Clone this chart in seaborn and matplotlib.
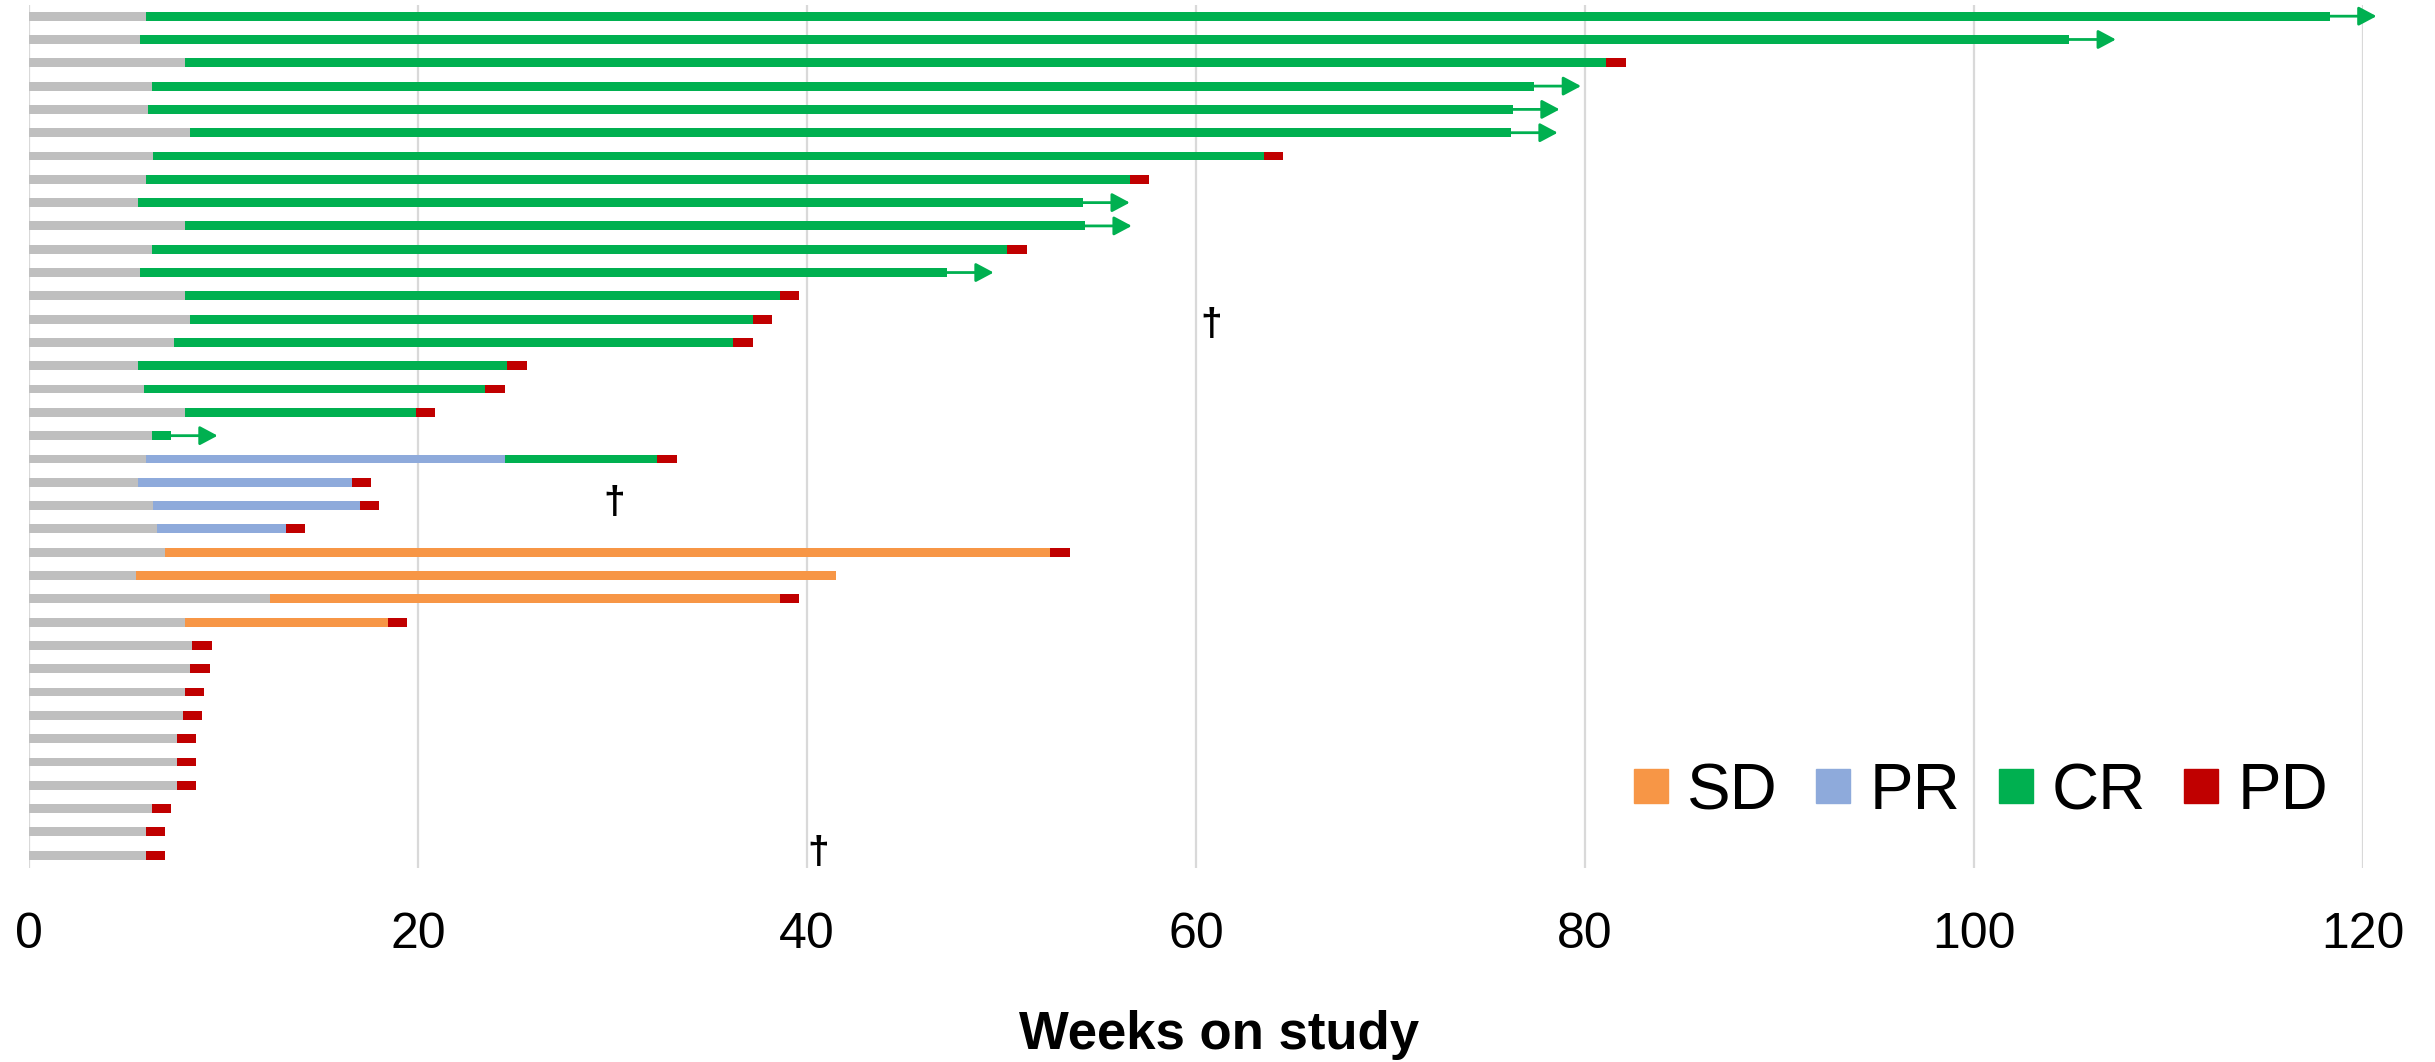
"""
Swimmer plot: weeks on study per patient, coloured by best response phase.
"""
import matplotlib

matplotlib.use("Agg")
import matplotlib.pyplot as plt
import pandas as pd
import seaborn as sns
from matplotlib.lines import Line2D

# Weeks of each phase per patient (top row first)
GRAY = [6.0, 5.7, 8.0, 6.3, 6.1, 8.3, 6.4, 6.0, 5.6, 8.0, 6.3, 5.7, 8.0, 8.3, 7.45, 5.6, 5.9, 8.0, 6.3,
        6.0, 5.6, 6.4, 6.6, 7.0, 5.5, 12.4, 8.0, 8.4, 8.3, 8.0, 7.9, 7.6, 7.6, 7.6, 6.3, 6.0, 6.0]
SD = [0] * 23 + [45.5, 36.0, 26.2, 10.45] + [0] * 10
PR = [0] * 19 + [18.5, 11.0, 10.6, 6.6] + [0] * 14
CR = [112.3, 99.2, 73.1, 71.1, 70.2, 67.9, 57.1, 50.6, 48.6, 46.3, 44.0, 41.5, 30.6, 28.9, 28.75,
      19.0, 17.55, 11.9, 1.0, 7.8] + [0] * 17
PD = [0, 0, 1, 0, 0, 0, 1, 1, 0, 0, 1, 0, 1, 1, 1, 1, 1, 1, 0,
      1, 1, 1, 1, 1, 0, 1, 1, 1, 1, 1, 1, 1, 1, 1, 1, 1, 1]
ONGOING = [1, 1, 0, 1, 1, 1, 0, 0, 1, 1, 0, 1, 0, 0, 0, 0, 0, 0, 1,
           0, 0, 0, 0, 0, 0, 0, 0, 0, 0, 0, 0, 0, 0, 0, 0, 0, 0]
ARROW_LEN = 2.4

# deaths (dagger marks)
DEATH_WEEK = [60.8, 30.1, 40.6]
DEATH_ROW = [13.25, 20.9, 35.9]

XTICKS = [0, 20, 40, 60, 80, 100, 120]
COLORS = {"gray": "#BFBFBF", "SD": "#F79646", "PR": "#8EAADB", "CR": "#00B050", "PD": "#C00000"}

sns.set_theme(style="white")
plt.rcParams["font.family"] = ["Liberation Sans", "DejaVu Sans"]
plt.rcParams["text.color"] = "black"
plt.rcParams["axes.labelcolor"] = "black"
plt.rcParams["xtick.color"] = "black"

df = pd.DataFrame({"gray": GRAY, "SD": SD, "PR": PR, "CR": CR, "PD": PD})
cum = df.cumsum(axis=1)
cum["patient"] = [f"P{i + 1}" for i in range(len(df))]

fig = plt.figure(figsize=(24.35, 10.62), dpi=100)
ax = fig.add_axes([0.0119, 0.1827, 0.9585, 0.8126])

# overlay cumulative totals, longest first, so each phase shows as a stacked segment
for col in ["PD", "CR", "PR", "SD", "gray"]:
    sns.barplot(data=cum, x=col, y="patient", orient="h", color=COLORS[col],
                saturation=1, width=0.38, linewidth=0, ax=ax)

# ongoing response arrows
for i, end in enumerate(cum["CR"]):
    if ONGOING[i]:
        ax.annotate("", xy=(end + ARROW_LEN, i), xytext=(end, i), annotation_clip=False,
                    arrowprops=dict(arrowstyle="-|>,head_length=0.6,head_width=0.32",
                                    color=COLORS["CR"], lw=2.0, mutation_scale=18,
                                    shrinkA=0, shrinkB=0))

for wk, row in zip(DEATH_WEEK, DEATH_ROW):
    ax.text(wk, row, "\u2020", ha="center", va="center", fontsize=28, fontweight="bold")

ax.set_xlim(0, 120)
ax.set_ylim(36.55, -0.48)
ax.set_xticks(XTICKS)
ax.set_xticklabels([str(t) for t in XTICKS])
ax.set_yticks([])
ax.set_ylabel("")
ax.xaxis.grid(True, color="#D9D9D9", lw=1.6)
ax.set_axisbelow(True)
for s in ax.spines.values():
    s.set_visible(False)
ax.tick_params(axis="x", length=0, labelsize=36, pad=32)
ax.set_xlabel("Weeks on study", fontsize=38, fontweight="bold")
ax.xaxis.set_label_coords(0.51, -0.165)

handles = [Line2D([], [], marker="s", ls="", markersize=24, color=COLORS[k]) for k in ["SD", "PR", "CR", "PD"]]
ax.legend(handles, ["SD", "PR", "CR", "PD"], loc="center right", bbox_to_anchor=(0.985, 0.088),
          ncol=4, frameon=False, fontsize=47, handlelength=0.5, handletextpad=0.3,
          columnspacing=0.6, borderpad=0, borderaxespad=0)

fig.savefig("out.png", dpi=100)
